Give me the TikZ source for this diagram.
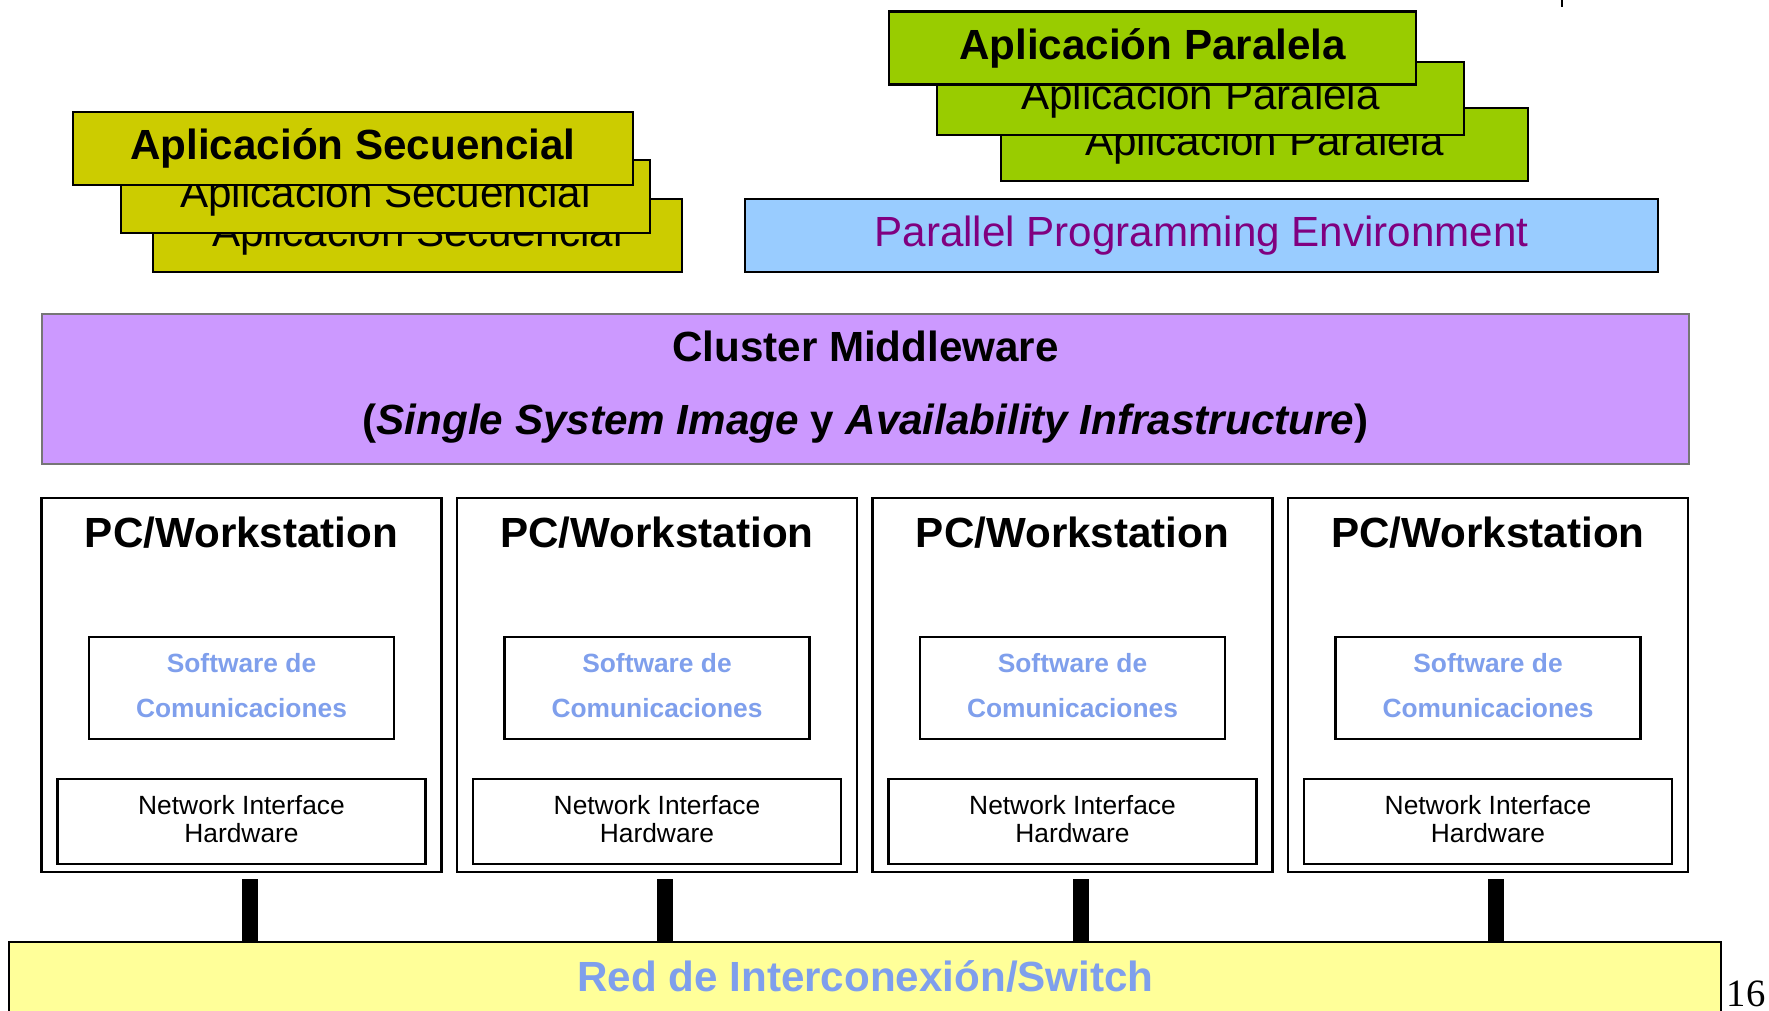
\documentclass[tikz,border=0pt]{standalone}
\usepackage{fontspec}
\setmainfont{Liberation Sans}
\newfontfamily\seitenfont{Liberation Serif}
\usetikzlibrary{calc}
\definecolor{secgelb}{HTML}{CCCC00}
\definecolor{pargruen}{HTML}{99CC00}
\definecolor{ppeblau}{HTML}{99CCFF}
\definecolor{ppelila}{HTML}{800080}
\definecolor{mwlila}{HTML}{CC99FF}
\definecolor{mwgrau}{HTML}{767676}
\definecolor{redgelb}{HTML}{FFFF99}
\definecolor{komblau}{HTML}{7F9FEC}
\newcommand\gross{\fontsize{12}{14}\selectfont}
\newcommand\klein{\fontsize{7.5}{8}\selectfont}
\tikzset{
  kasten/.style={draw,line width=.6pt,inner sep=0pt,minimum height=.73cm,font=\gross},
  secbox/.style={kasten,fill=secgelb,minimum width=5.29cm},
  parbox/.style={kasten,fill=pargruen,minimum width=5.27cm},
  pcbox/.style={draw,line width=.6pt,minimum width=4cm,minimum height=3.74cm},
  softbox/.style={draw,line width=.6pt,inner sep=0pt,minimum width=3.05cm,minimum height=1.02cm,
    align=center,text depth=.06cm,text=komblau,font=\fontsize{7.5}{12.8}\selectfont\bfseries},
  nicbox/.style={draw,line width=.6pt,inner sep=0pt,minimum width=3.68cm,minimum height=.85cm,
    align=center,text depth=.06cm,font=\klein},
  link/.style={line width=.16cm},
}
\begin{document}
\begin{tikzpicture}
\useasboundingbox (0,0) rectangle (17.69,-10.10);
%Aplicacion secuencial
\node[secbox] (sec3) at (4.175,-2.355) {Aplicación Secuencial};
\node[secbox] (sec2) at (3.855,-1.965) {Aplicación Secuencial};
\node[secbox,minimum width=5.6cm,font=\gross\bfseries] (sec1) at (3.53,-1.485) {Aplicación Secuencial};
%Aplicacion paralela
\node[parbox] (par3) at (12.645,-1.445) {Aplicación Paralela};
\node[parbox] (par2) at (12.005,-0.985) {Aplicación Paralela};
\node[parbox,font=\gross\bfseries] (par1) at (11.525,-0.48) {Aplicación Paralela};
\node[kasten,fill=ppeblau,text=ppelila,minimum width=9.13cm] (ppe) at (12.015,-2.355) {Parallel Programming Environment};
\draw[line width=.8pt] (15.62,0) -- (15.62,-0.07);
%Middleware
\node[draw=mwgrau,line width=.6pt,fill=mwlila,minimum width=16.47cm,minimum height=1.5cm] (mw) at (8.655,-3.89) {};
\node[anchor=base,font=\gross\bfseries] (mwtitel) at (8.655,-3.61) {Cluster Middleware};
\node[anchor=base,font=\gross\bfseries] (mwtext) at (8.655,-4.34) {(\textit{Single System Image} y \textit{Availability Infrastructure})};
%Red
\node[draw,line width=.6pt,fill=redgelb,minimum width=17.12cm,minimum height=1cm] (red) at (8.65,-9.92) {};
\node[anchor=base,text=komblau,font=\gross\bfseries] (redtext) at (8.655,-9.91) {Red de Interconexión/Switch};
%PCs
\foreach \i in {1,...,4}{
  \pgfmathsetmacro\xc{2.415+4.155*(\i-1)}
  \node[pcbox] (pc\i) at (\xc,-6.85) {};
  \node[anchor=base,font=\gross\bfseries] (pctitel\i) at (\xc,-5.47) {PC/Workstation};
  \node[softbox] (sw\i) at (\xc,-6.88) {Software de\\Comunicaciones};
  \node[nicbox] (nic\i) at (\xc,-8.215) {Network Interface\\Hardware};
  \draw[link] ($(pc\i.south)+(.08,-.06)$) -- ($(pc\i.south |- red.north)+(.08,0)$);
}
\node[anchor=base west,inner sep=0pt,font=\seitenfont\fontsize{11}{13}\selectfont] (seite) at (17.26,-10.06) {16};
\end{tikzpicture}
\end{document}
